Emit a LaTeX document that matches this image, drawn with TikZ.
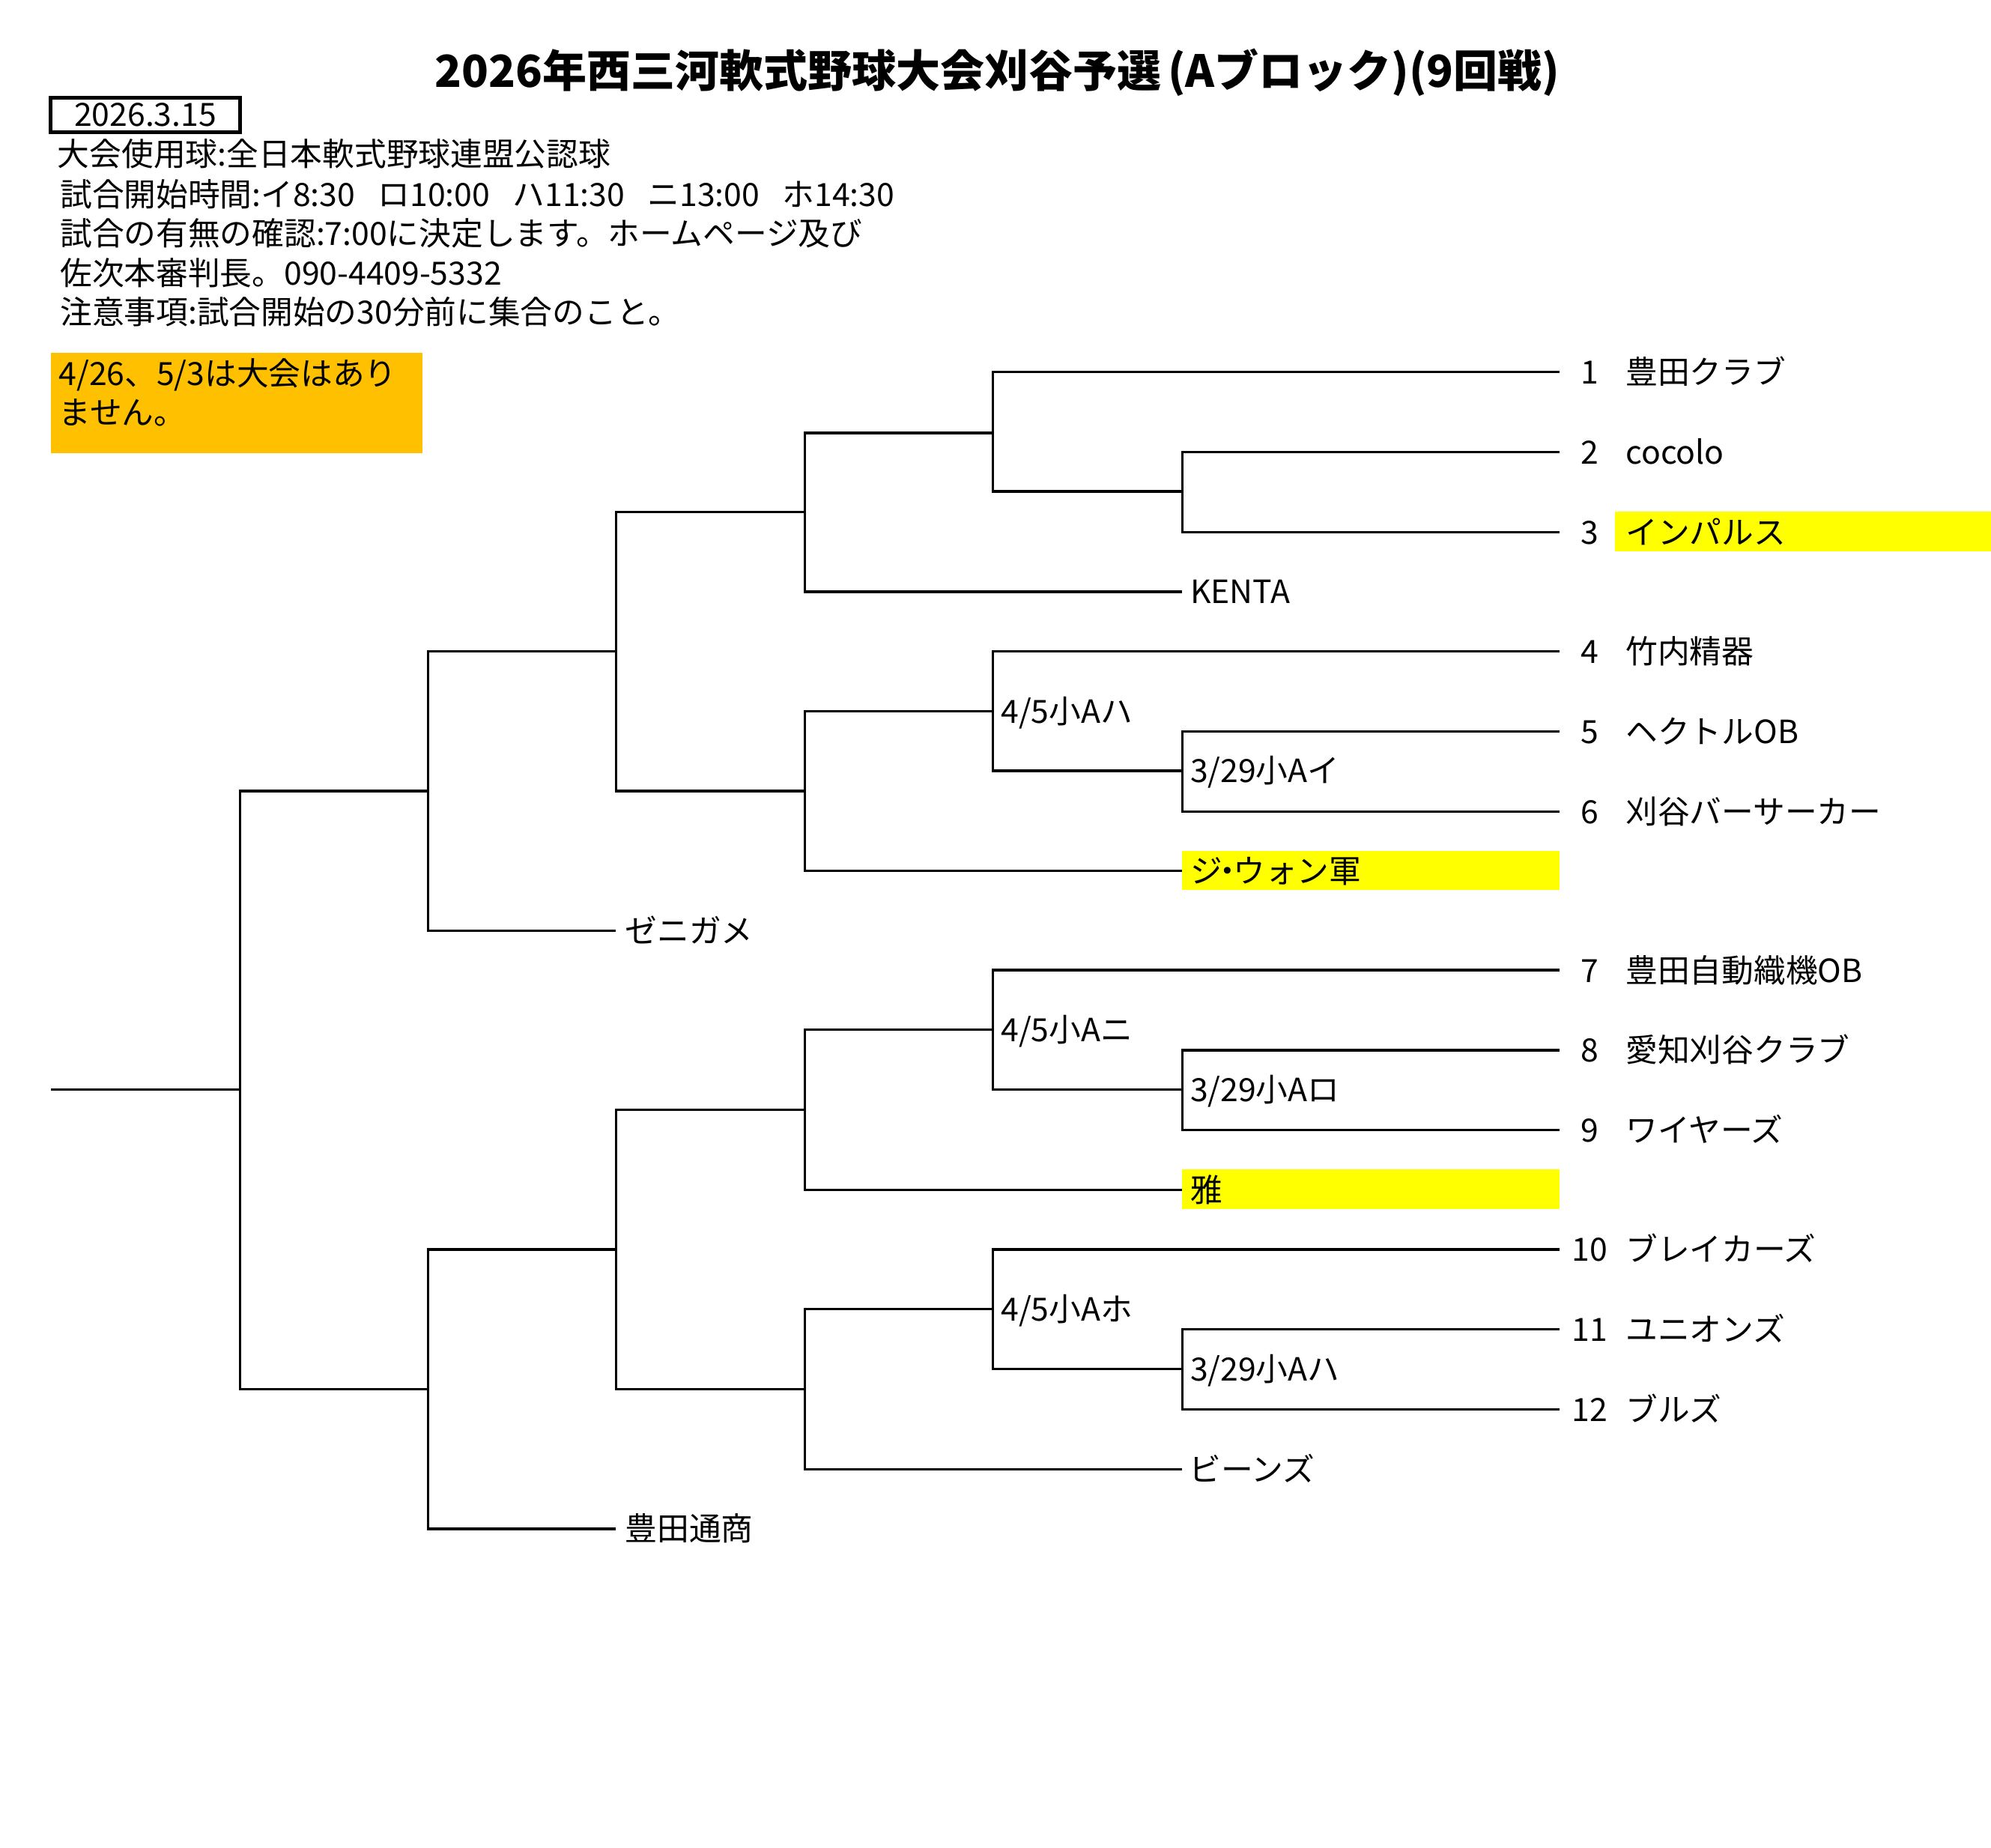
\documentclass[tikz,border=0pt]{standalone}
\usepackage{fontspec}
\setmainfont{Noto Sans CJK JP}
\definecolor{gold}{HTML}{FFC000}
\definecolor{hilite}{HTML}{FFFF00}
\begin{document}
\begin{tikzpicture}[x=0.5pt,y=-0.5pt,
  bline/.style={line width=0.95pt},
  txt/.style={inner sep=0pt,yshift=-0.9pt,font=\fontsize{12.6pt}{14pt}\selectfont,text height=0.8em,text depth=0.04em},
  lbl/.style={txt,anchor=west},
  num/.style={txt,anchor=center}]
\useasboundingbox (0,0) rectangle (1568,1455.3);
% backgrounds
\fill[gold] (40,278) rectangle (333,357);
\fill[hilite] (1272,403) rectangle (1568,434);
\fill[hilite] (931,670) rectangle (1228,701);
\fill[hilite] (931,921) rectangle (1228,952);
% title
\node[txt,anchor=center,yshift=-1.2pt,font=\fontsize{17.4pt}{19pt}\selectfont\bfseries] (title) at (785.5,57) {2026年西三河軟式野球大会刈谷予選\kern0.15em(Aブロック)(9回戦)};
% date box
\node[draw,line width=1.5pt,minimum width=74.5pt,minimum height=13.5pt,inner sep=0pt,font=\fontsize{12.6pt}{14pt}\selectfont] (date) at (114.5,90.5) {2026.3.15};
% info lines
\node[lbl] (info1) at (45,121) {大会使用球:全日本軟式野球連盟公認球};
\node[lbl] (info2) at (47,153) {試合開始時間:イ8:30\hspace{9pt}ロ10:00\hspace{9pt}ハ11:30\hspace{9pt}ニ13:00\hspace{9pt}ホ14:30};
\node[lbl] (info3) at (47,184) {試合の有無の確認:7:00に決定します。ホームページ及び};
\node[lbl] (info4) at (47,215) {佐次本審判長。090-4409-5332};
\node[lbl] (info5) at (47,246) {注意事項:試合開始の30分前に集合のこと。};
\node[lbl] (note1) at (46,294) {4/26、5/3は大会はあり};
\node[lbl] (note2) at (46,325) {ません。};
% coordinates
\coordinate (t1) at (1228,293);
\coordinate (t2) at (1228,356);
\coordinate (t3) at (1228,419);
\coordinate (t4) at (1228,513);
\coordinate (t5) at (1228,576);
\coordinate (t6) at (1228,639);
\coordinate (t7) at (1228,764);
\coordinate (t8) at (1228,827);
\coordinate (t9) at (1228,890);
\coordinate (t10) at (1228,984);
\coordinate (t11) at (1228,1047);
\coordinate (t12) at (1228,1110);
\coordinate (kenta) at (931,466);
\coordinate (jiwon) at (931,686);
\coordinate (miya) at (931,937);
\coordinate (beans) at (931,1157);
\coordinate (zeni) at (485,733);
\coordinate (toyo) at (485,1204);
\coordinate (j23) at (931,387);
\coordinate (j1) at (782,341);
\coordinate (j1K) at (634,403);
\coordinate (j56) at (931,607);
\coordinate (j4) at (782,560);
\coordinate (jJ) at (634,623);
\coordinate (jU) at (485,513);
\coordinate (jZ) at (337,623);
\coordinate (j89) at (931,858);
\coordinate (j7) at (782,811);
\coordinate (jM) at (634,874);
\coordinate (j1112) at (931,1078);
\coordinate (j10) at (782,1031);
\coordinate (jB) at (634,1094);
\coordinate (jL) at (485,984);
\coordinate (jT) at (337,1094);
\coordinate (jroot) at (189,858);
\coordinate (rootend) at (40,858);
% bracket
\draw[bline] (t2) -| (j23) |- (t3);
\draw[bline] (t1) -| (j1) |- (j23);
\draw[bline] (j1) -| (j1K) |- (kenta);
\draw[bline] (t5) -| (j56) |- (t6);
\draw[bline] (t4) -| (j4) |- (j56);
\draw[bline] (j4) -| (jJ) |- (jiwon);
\draw[bline] (j1K) -| (jU) |- (jJ);
\draw[bline] (jU) -| (jZ) |- (zeni);
\draw[bline] (t8) -| (j89) |- (t9);
\draw[bline] (t7) -| (j7) |- (j89);
\draw[bline] (j7) -| (jM) |- (miya);
\draw[bline] (t11) -| (j1112) |- (t12);
\draw[bline] (t10) -| (j10) |- (j1112);
\draw[bline] (j10) -| (jB) |- (beans);
\draw[bline] (jM) -| (jL) |- (jB);
\draw[bline] (jL) -| (jT) |- (toyo);
\draw[bline] (jZ) -| (jroot) |- (jT);
\draw[bline] (jroot) -- (rootend);
% team numbers and names
\foreach \n/\y/\name in {1/293/豊田クラブ,2/356/cocolo,3/419/インパルス,4/513/竹内精器,5/576/ヘクトルOB,6/639/刈谷バーサーカー,7/764/豊田自動織機OB,8/827/愛知刈谷クラブ,9/890/ワイヤーズ,10/984/ブレイカーズ,11/1047/ユニオンズ,12/1110/ブルズ}{
  \node[num] (n\n) at (1252,\y) {\n};
  \node[lbl] (team\n) at (1280,\y) {\name};
}
% byes
\node[lbl] (lkenta) at (937,466) {KENTA};
\node[lbl] (ljiwon) at (937,686) {ジ\kern-0.33em・\kern-0.33emウォン軍};
\node[lbl] (lmiya) at (937,937) {雅};
\node[lbl] (lbeans) at (936,1157) {ビーンズ};
\node[lbl] (lzeni) at (492,733) {ゼニガメ};
\node[lbl] (ltoyo) at (492,1204) {豊田通商};
% match labels
\node[lbl] (m1) at (788,560) {4/5小Aハ};
\node[lbl] (m2) at (937,607) {3/29小Aイ};
\node[lbl] (m3) at (788,811) {4/5小Aニ};
\node[lbl] (m4) at (937,858) {3/29小Aロ};
\node[lbl] (m5) at (788,1031) {4/5小Aホ};
\node[lbl] (m6) at (937,1078) {3/29小Aハ};
\end{tikzpicture}
\end{document}
